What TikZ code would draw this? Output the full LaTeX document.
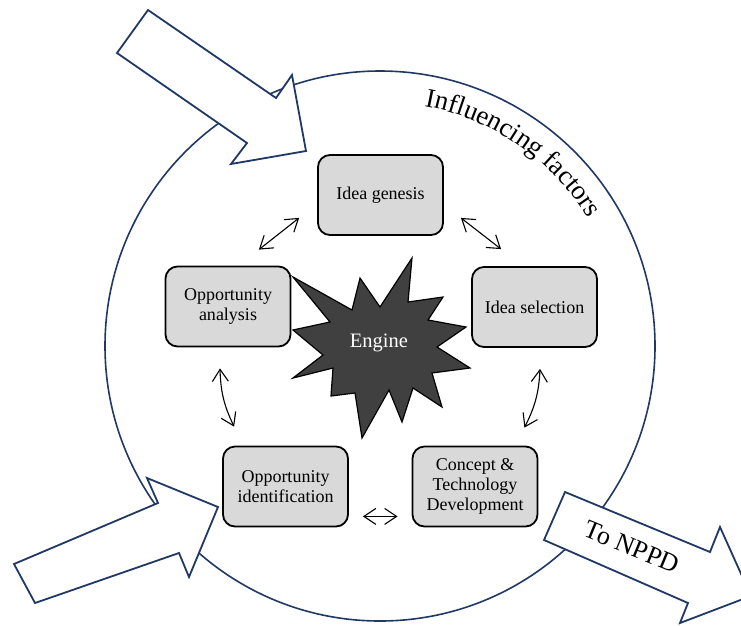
\documentclass[tikz,border=0pt]{standalone}
\usepackage{fontspec}
\setmainfont{Liberation Serif}
\usetikzlibrary{arrows.meta,decorations.text}
\definecolor{navy}{HTML}{203864}
\definecolor{boxgray}{HTML}{D9D9D9}
\definecolor{stargray}{HTML}{404040}
\begin{document}
\begin{tikzpicture}[x=1pt,y=1pt,
  stagebox/.style={draw=black, line width=1.8pt, rounded corners=12pt, fill=boxgray,
    minimum width=125pt, minimum height=80pt, align=center,
    font=\fontsize{18}{20}\selectfont, inner sep=2pt},
  link/.style={line width=1.1pt,
    {Straight Barb[length=12pt,width=16pt]}-{Straight Barb[length=12pt,width=16pt]}},
  bigarrow/.style={draw=navy, line width=1.8pt, fill=white, line join=miter},
  ring/.style={draw=navy, line width=1.6pt}
]
\useasboundingbox (0,0) rectangle (741,-625);
\clip (0,0) rectangle (741,-625);

% influencing-factors ring
\coordinate (ctr) at (380,-346);
\draw[ring] (ctr) circle[radius=275];
\path[decorate, decoration={text along path, text align=left,
   text={|\fontsize{27}{27}\selectfont|Influencing factors}}]
   (ctr) ++(79.5:244) arc[start angle=79.5, end angle=20, radius=244];

% big block arrows
\draw[bigarrow] (148,-10) -- (276,-98) -- (292,-75) -- (306,-151) -- (231,-164) -- (247,-143) -- (117,-53) -- cycle;
\draw[bigarrow] (14,-564) -- (158,-503) -- (147,-478) -- (218,-507) -- (189,-577) -- (179,-553) -- (35,-603) -- cycle;
\draw[bigarrow] (565,-492) -- (710,-552) -- (720,-527) -- (751,-596) -- (680,-623) -- (688,-603) -- (544,-540) -- cycle;
\node[rotate=-22.5, font=\fontsize{26}{26}\selectfont] (npd) at (632,-547) {To NPPD};

% engine star
\draw[fill=stargray, draw=black, line width=1.2pt, line join=miter]
  (293,-277) -- (352,-310) -- (360,-278) -- (380,-307) -- (412,-258) -- (408,-302)
  -- (443,-297) -- (428,-320) -- (466,-327) -- (437,-347) -- (470,-368) -- (432,-373)
  -- (442,-407) -- (413,-388) -- (402,-422) -- (389,-390) -- (362,-438) -- (355,-393)
  -- (331,-396) -- (333,-368) -- (293,-378) -- (323,-355) -- (293,-330) -- (330,-322) -- cycle;
\node[text=white, font=\fontsize{20.5}{22}\selectfont] (eng) at (379,-343) {Engine};

% stage boxes
\node[stagebox] (gen) at (380.5,-195) {Idea genesis};
\node[stagebox] (sel) at (534.5,-307) {Idea selection};
\node[stagebox] (ana) at (228,-306.5) {Opportunity\\analysis};
\node[stagebox] (ide) at (285.5,-486.5) {Opportunity\\identification};
\node[stagebox] (con) at (475,-486.5) {Concept \&\\Technology\\Development};

% links
\draw[link] ([xshift=-18pt,yshift=18pt]gen.south west) -- ([xshift=-32.5pt,yshift=16pt]ana.north east);
\draw[link] ([xshift=17pt,yshift=18pt]gen.south east) -- ([xshift=30pt,yshift=17pt]sel.north west);
\draw[link] ([xshift=5.5pt,yshift=-21pt]sel.south) to[bend left=12] ([xshift=-14pt,yshift=18pt]con.north east);
\draw[link] ([xshift=-8pt,yshift=-21pt]ana.south) to[bend right=12] ([xshift=12pt,yshift=19pt]ide.north west);
\draw[link] ([xshift=14pt,yshift=11pt]ide.south east) -- ([xshift=-14pt,yshift=11pt]con.south west);
\end{tikzpicture}
\end{document}
